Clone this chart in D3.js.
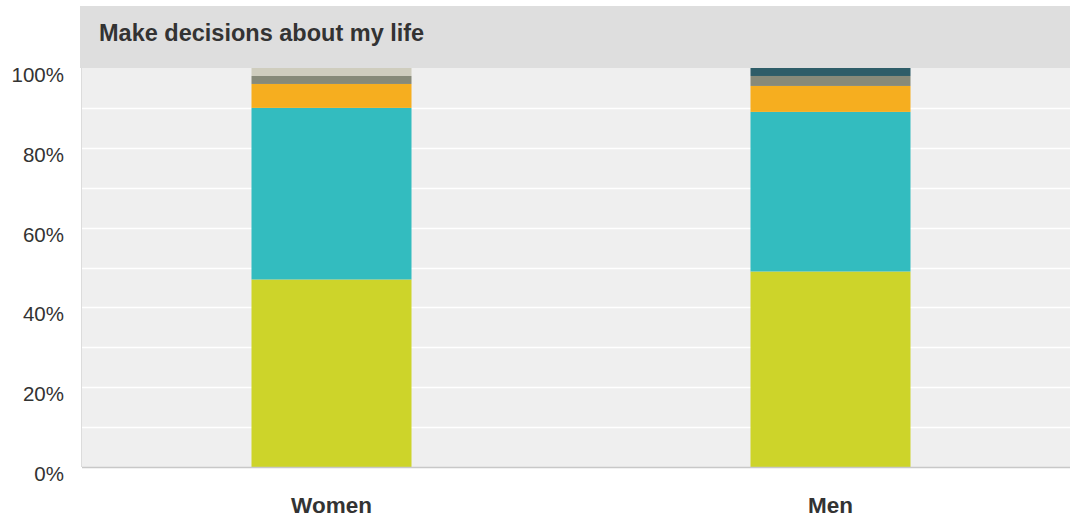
<!DOCTYPE html>
<html>
<head>
<meta charset="utf-8">
<script src="https://cdn.jsdelivr.net/npm/d3@7"></script>
<style>
  html, body { margin: 0; padding: 0; background: #ffffff; }
  svg { display: block; font-family: "Liberation Sans", Arial, sans-serif; }
</style>
</head>
<body>
<svg id="chart" width="1070" height="520"></svg>
<script>
// Chart data
const title = "Make decisions about my life";
const categories = ["Women", "Men"];
const seriesKeys = ["s1", "s2", "s3", "s4", "s5", "s6"];
const seriesColors = ["#cdd42a", "#33bcbf", "#f6ae1f", "#878a79", "#cfcdbe", "#2e5d68"];
const s1 = [47, 49];
const s2 = [43, 40];
const s3 = [6, 6.5];
const s4 = [2, 2.5];
const s5 = [2, 0];
const s6 = [0, 2];
const tickValues = [0, 20, 40, 60, 80, 100];
const gridValues = [0, 10, 20, 30, 40, 50, 60, 70, 80, 90, 100];

const seriesValues = [s1, s2, s3, s4, s5, s6];
const rows = categories.map((c, i) => {
  const r = { category: c };
  seriesKeys.forEach((k, j) => { r[k] = seriesValues[j][i]; });
  return r;
});

const svg = d3.select("#chart");
const plot = { left: 82, right: 1080, top: 68, bottom: 467 };

// Title band
svg.append("rect")
  .attr("x", 80).attr("y", 6)
  .attr("width", 990).attr("height", plot.top - 6)
  .attr("fill", "#dedede");
svg.append("text")
  .attr("x", 99).attr("y", 41)
  .attr("font-size", 23.5).attr("font-weight", "bold")
  .attr("fill", "#333333")
  .text(title);

// Plot background
svg.append("rect")
  .attr("x", plot.left).attr("y", plot.top)
  .attr("width", 1070 - plot.left).attr("height", plot.bottom - plot.top)
  .attr("fill", "#efefef");

const x = d3.scaleBand().domain(categories).range([plot.left, plot.right]).paddingInner(0).paddingOuter(0);
const y = d3.scaleLinear().domain([0, 100]).range([plot.bottom, plot.top]);
const barWidth = 160;

// Gridlines
svg.append("g").selectAll("line").data(gridValues.filter(v => v > 0 && v < 100)).join("line")
  .attr("x1", plot.left).attr("x2", 1070)
  .attr("y1", d => Math.round(y(d)) + 0.5).attr("y2", d => Math.round(y(d)) + 0.5)
  .attr("stroke", "#ffffff").attr("stroke-width", 1.5);

// Stacked bars
const stack = d3.stack().keys(seriesKeys)(rows);
const color = d3.scaleOrdinal().domain(seriesKeys).range(seriesColors);
svg.append("g").selectAll("g").data(stack).join("g")
  .attr("fill", d => color(d.key))
  .selectAll("rect").data(d => d).join("rect")
  .attr("x", d => x(d.data.category) + x.bandwidth() / 2 - barWidth / 2)
  .attr("width", barWidth)
  .attr("y", d => y(d[1]))
  .attr("height", d => y(d[0]) - y(d[1]));

// Axis lines
svg.append("line")
  .attr("x1", plot.left).attr("x2", 1070)
  .attr("y1", plot.bottom + 0.5).attr("y2", plot.bottom + 0.5)
  .attr("stroke", "#c8c8c8").attr("stroke-width", 1.5);
svg.append("line")
  .attr("x1", plot.left - 0.5).attr("x2", plot.left - 0.5)
  .attr("y1", plot.top).attr("y2", plot.bottom)
  .attr("stroke", "#dcdcdc").attr("stroke-width", 1);

// Y axis tick labels
const yAxis = d3.axisLeft(y).tickValues(tickValues).tickFormat(d => d + "%").tickSize(0).tickPadding(0);
const gy = svg.append("g").attr("transform", `translate(64,7)`).call(yAxis);
gy.select(".domain").remove();
gy.selectAll("text").attr("font-size", 20.5).attr("fill", "#333333")
  .attr("font-family", "Liberation Sans, Arial, sans-serif");

// X axis category labels
const xAxis = d3.axisBottom(x).tickSize(0).tickPadding(0);
const gx = svg.append("g").attr("transform", `translate(0,${plot.bottom})`).call(xAxis);
gx.select(".domain").remove();
gx.selectAll("text").attr("y", 46).attr("dy", 0)
  .attr("font-size", 22.5).attr("font-weight", "bold").attr("fill", "#333333")
  .attr("font-family", "Liberation Sans, Arial, sans-serif");
</script>
</body>
</html>
